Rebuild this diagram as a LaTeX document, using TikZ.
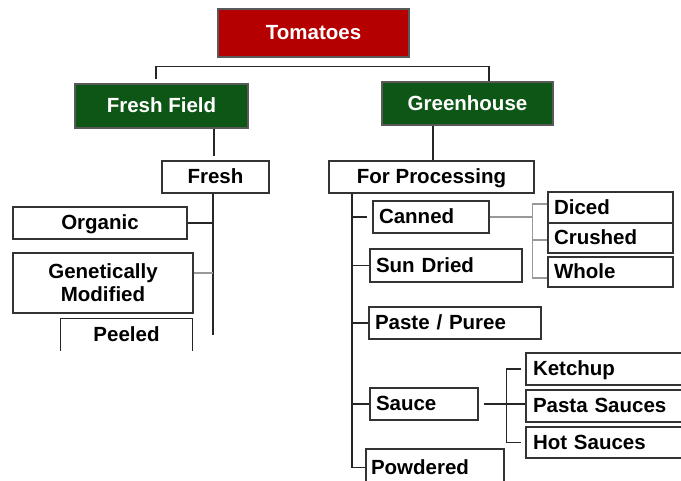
\documentclass[tikz,border=0pt]{standalone}
\usepackage{fontspec}
\setmainfont{Liberation Sans}
\usepackage{xcolor}
\usepackage{tikz}
\usetikzlibrary{positioning, calc}
\definecolor{tomred}{HTML}{B40000}
\definecolor{fieldgreen}{HTML}{0E5616}
\tikzset{
    head/.style={rectangle, draw=black!65, line width=1.2pt, fill=tomred, text=white, font=\bfseries\fontsize{20.5}{23}\selectfont, inner sep=0pt, text height=14pt, text depth=1pt},
    group/.style={head, fill=fieldgreen},
    frame/.style={rectangle, draw=black!80, line width=1.2pt, fill=white, font=\bfseries\fontsize{20.5}{23}\selectfont, inner sep=0pt},
    box/.style={frame, text height=14pt, text depth=1pt},
    leaf/.style={box, align=left, inner xsep=6pt},
    link/.style={draw=black!85, line width=1.3pt},
    faint/.style={draw=black!40, line width=1.3pt}
}

\begin{document}
\begin{tikzpicture}[x=1pt, y=-1pt]
    \useasboundingbox (0,0) rectangle (681,480);
    \clip (0,0) rectangle (681,480);

    % Top
    \node[head, minimum width=191pt, minimum height=48pt] (tom) at (313.5,33) {Tomatoes};

    % Groups
    \node[group, minimum width=173pt, minimum height=44pt] (ff) at (161.5,106) {Fresh Field};
    \node[group, minimum width=171pt, minimum height=43pt] (gh) at (467.5,103.5) {Greenhouse};
    \node[box, minimum width=107pt, minimum height=32pt] (fr) at (215.5,177) {Fresh};
    \node[box, minimum width=205pt, minimum height=32pt] (fp) at (431.5,177) {For Processing};

    % Fresh side
    \node[box, minimum width=174pt, minimum height=32pt] (og) at (100,223) {Organic};
    \node[frame, minimum width=180pt, minimum height=60pt, align=center] (gm) at (103,283) {Genetically\\Modified};
    \node[box, draw=none, fill=none, minimum width=131pt, minimum height=31pt] (pl) at (126.5,334.5) {Peeled};

    % Processing side
    \node[leaf, text width=104pt, minimum height=32pt] (cn) at (431,217) {Canned};
    \node[leaf, text width=140pt, minimum height=33pt] (sd) at (446,265.5) {Sun Dried};
    \node[leaf, text width=160pt, minimum height=32pt] (pp) at (455,323) {Paste / Puree};
    \node[leaf, text width=96pt, minimum height=32pt] (sa) at (424,404) {Sauce};
    \node[leaf, text width=128pt, minimum height=37pt, inner xsep=5pt] (pw) at (435,467.5) {Powdered};

    \node[leaf, text width=113pt, minimum height=31pt] (dc) at (610.5,207.5) {Diced};
    \node[leaf, text width=113pt, minimum height=30pt] (cr) at (610.5,238) {Crushed};
    \node[leaf, text width=113pt, minimum height=30pt] (wh) at (610.5,272) {Whole};

    \node[leaf, text width=160pt, minimum height=32pt, inner xsep=7pt] (kc) at (613,369) {Ketchup};
    \node[leaf, text width=160pt, minimum height=32pt, inner xsep=7pt] (pa) at (613,406) {Pasta Sauces};
    \node[leaf, text width=160pt, minimum height=31pt, inner xsep=7pt] (hs) at (613,442.5) {Hot Sauces};

    % Links
    \draw[link] ([xshift=-5.5pt,yshift=4pt]ff.north) -- ++(0,-13) -| ([xshift=21.5pt]gh.north);
    \draw[link] ([xshift=-1.5pt]fr.north |- ff.south) -- ([xshift=-1.5pt,yshift=4pt]fr.north);
    \draw[link] ([xshift=1.5pt]fp.north |- gh.south) -- ([xshift=1.5pt]fp.north);

    % Fresh branch
    \coordinate (frend) at ([xshift=-2.5pt]fr.south |- pl.center);
    \draw[link] ([xshift=-2.5pt]fr.south) -- (frend);
    \draw[link] (og.east) -- (og.east -| frend);
    \coordinate (gmtick) at ([yshift=10pt]gm.east);
    \draw[faint] (gmtick) -- (gmtick -| frend);
    \draw[link] (pl.south west) |- (pl.north east) -- (pl.south east);

    % Processing branch
    \coordinate (pline) at ([xshift=-79.5pt]fp.south);
    \draw[link] (pline) |- (pw.west);
    \draw[link] (pline |- cn.west) -- ([xshift=-5pt]cn.west);
    \draw[link] (pline |- sd.west) -- (sd.west);
    \draw[link] (pline |- pp.west) -- (pp.west);
    \draw[link] (pline |- sa.west) -- (sa.west);

    % Canned kinds
    \coordinate (cbr) at ([xshift=-15pt]cr.west);
    \coordinate (ctop) at ([yshift=3.5pt]dc.west);
    \coordinate (cbot) at ([yshift=-6pt]wh.west);
    \draw[faint] (cn.east) -- (cn.east -| cbr);
    \draw[faint] (ctop) -| (cbot -| cbr) -- (cbot);
    \draw[faint] ([yshift=-2pt]cr.west) -- ([yshift=-2pt]cr.west -| cbr);

    % Sauce kinds
    \coordinate (sbr) at ([xshift=-19pt]pa.west);
    \draw[link] ([xshift=-4pt]kc.west) -| (sbr |- hs.west) -- ([xshift=-4pt]hs.west);
    \draw[link] ([xshift=5pt]sa.east) -- (sa.east -| pa.west);
\end{tikzpicture}
\end{document}
